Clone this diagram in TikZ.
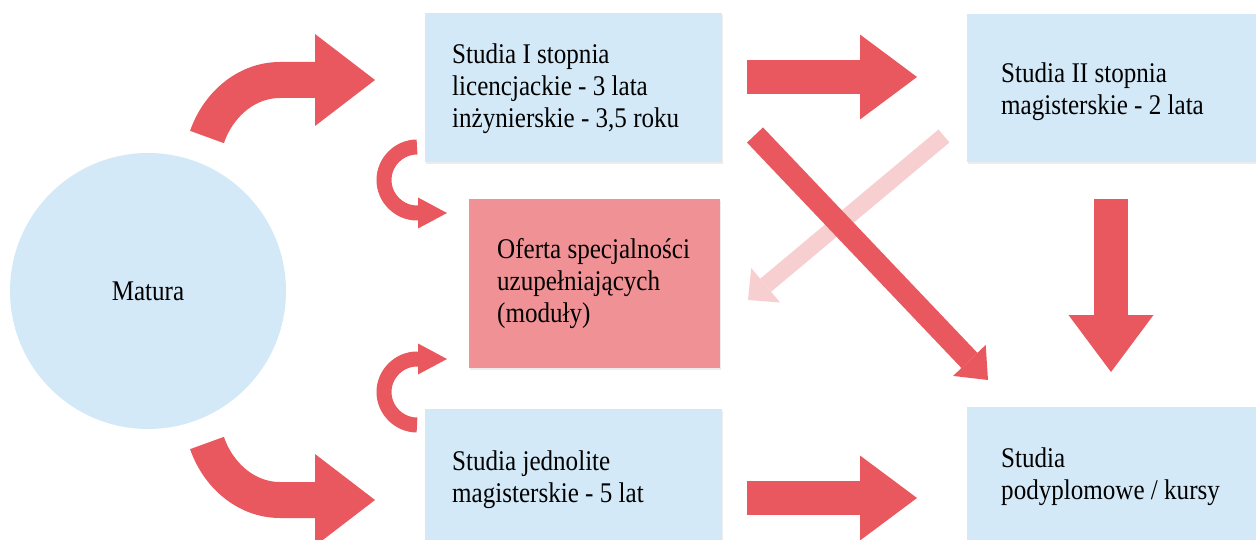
\documentclass[tikz,border=0pt]{standalone}
\usepackage{fontspec}
\setmainfont{Liberation Serif}[FakeStretch=0.88]
\usetikzlibrary{arrows.meta,shadows}
\definecolor{Blau}{HTML}{D3E9F8}
\definecolor{Rot}{HTML}{E8585E}
\definecolor{Rosa}{HTML}{F09295}
\definecolor{Blass}{HTML}{F8CFD1}
\tikzset{
	kasten/.style={fill=Blau,inner sep=0pt,anchor=north west,
		drop shadow={shadow xshift=1pt,shadow yshift=-2pt,opacity=.15}},
	napis/.style={anchor=west,align=left,inner sep=0pt},
	gerade/.style={Rot,line width=34pt,-{Triangle[length=57pt,width=85pt,line width=0pt]}},
	bogen/.style={Rot,line width=36pt,-{Triangle[length=60pt,width=92pt,line width=0pt]}},
	klein/.style={Rot,line width=15pt,-{Triangle[length=29pt,width=31pt,line width=0pt]}},
}
\begin{document}
\begin{tikzpicture}[x=1pt,y=-1pt,font=\fontsize{28.5pt}{32pt}\selectfont]
	\clip (0,0) rectangle (1256,540);
	% \draw[help lines,step=50] (0,0) grid (1256,540);
	\node[circle,fill=Blau,minimum size=276pt,inner sep=0pt] (matura) at (148,291) {Matura};
	\node[kasten,minimum width=297pt,minimum height=149pt] (s1) at (425,13) {};
	\node[kasten,minimum width=300pt,minimum height=148pt] (s2) at (967,14) {};
	\node[kasten,fill=Rosa,minimum width=251pt,minimum height=169pt,drop shadow={opacity=0}] (of) at (469,199) {};
	\node[kasten,minimum width=297pt,minimum height=141pt] (jm) at (425,409) {};
	\node[kasten,minimum width=300pt,minimum height=141pt] (pd) at (967,407) {};
	\node[napis] (t1) at (452,89) {Studia I stopnia\\licencjackie - 3 lata\\inżynierskie - 3,5 roku};
	\node[napis] (t2) at (1001,92) {Studia II stopnia\\magisterskie - 2 lata};
	\node[napis] (t3) at (497,284) {Oferta specjalności\\uzupełniających\\(moduły)};
	\node[napis] (t4) at (452,480) {Studia jednolite\\magisterskie - 5 lat};
	\node[napis] (t5) at (1001,477) {Studia\\podyplomowe / kursy};
	\coordinate (1) at (747,77);
	\coordinate (2) at (917,77);
	\coordinate (3) at (747,498);
	\coordinate (4) at (917,498);
	\coordinate (5) at (1111,199);
	\coordinate (6) at (1111,372);
	\coordinate (7) at (755,135);
	\coordinate (8) at (988,380);
	\coordinate (9) at (944,136);
	\coordinate (10) at (748,300);
	\coordinate (11) at (207,137);
	\coordinate (12) at (375,80);
	\coordinate (13) at (207,443);
	\coordinate (14) at (375,500);
	\coordinate (15) at (417,147);
	\coordinate (16) at (447,213);
	\coordinate (17) at (417,425);
	\coordinate (18) at (447,359);
	\foreach \a/\b in {1/2,3/4,5/6}{
		\draw[gerade] (\a) -- (\b);
	}
	\draw[Blass,line width=17pt,-{Triangle[length=23pt,width=45pt,line width=0pt]}] (9) -- (10);
	\draw[Rot,line width=22pt,-{Triangle[length=27pt,width=45pt,line width=0pt]}] (7) -- (8);
	\draw[bogen] (11) .. controls (218,105) and (246,80) .. (280,80) -- (12);
	\draw[bogen] (13) .. controls (218,475) and (246,500) .. (280,500) -- (14);
	\draw[klein] (15) .. controls (399,147) and (384,162) .. (384,180) .. controls (384,198) and (399,213) .. (417,213) -- (16);
	\draw[klein] (17) .. controls (399,425) and (384,410) .. (384,392) .. controls (384,374) and (399,359) .. (417,359) -- (18);
\end{tikzpicture}
\end{document}
